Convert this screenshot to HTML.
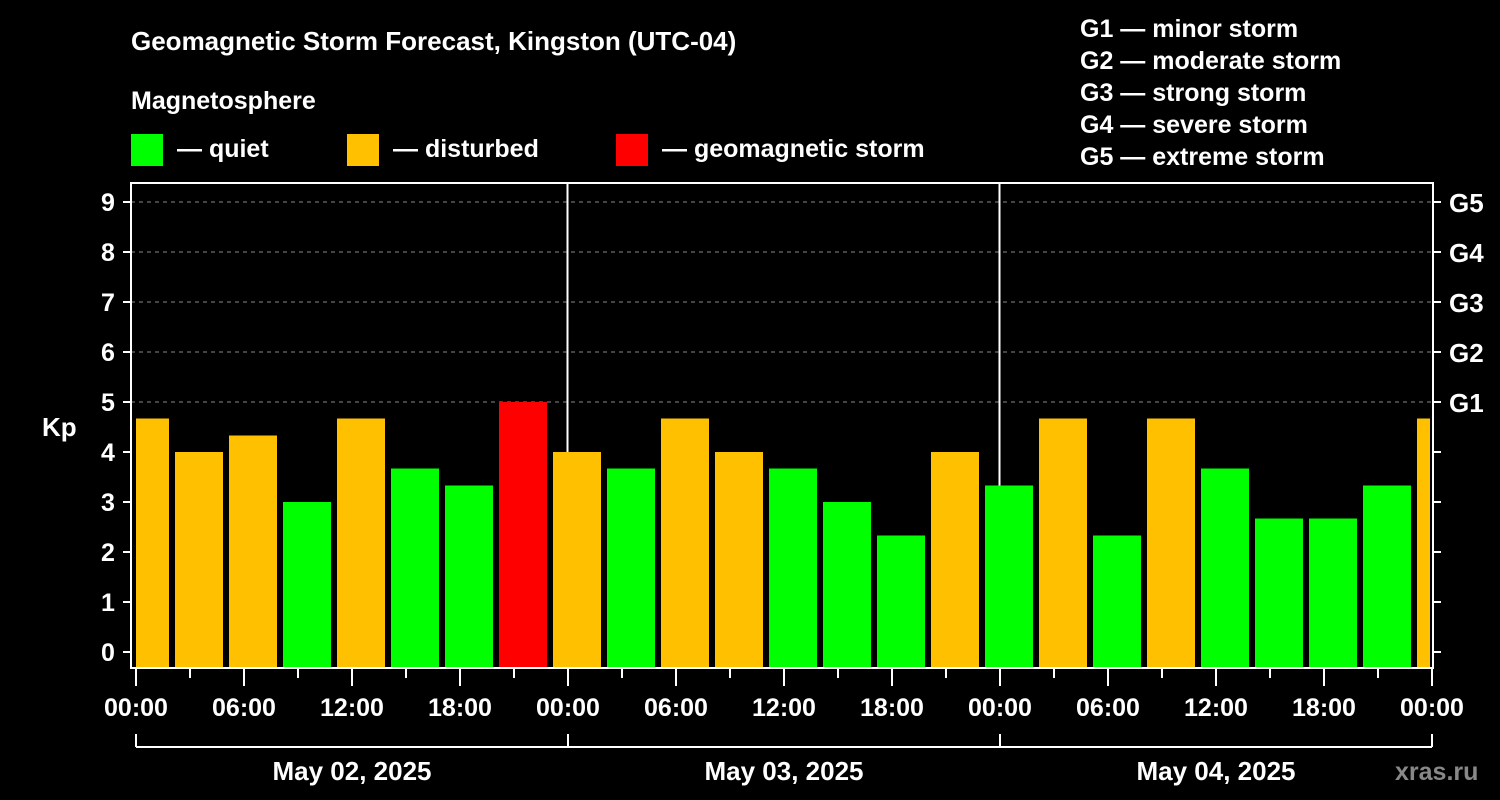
<!DOCTYPE html>
<html><head><meta charset="utf-8"><style>
body{margin:0;background:#000;}
svg{display:block;font-family:"Liberation Sans",Arial,sans-serif;font-weight:bold;fill:#fff;}
</style></head><body>
<svg id="c" width="1500" height="800" viewBox="0 0 1500 800">
<rect width="1500" height="800" fill="#000"/>
<text x="131" y="50" font-size="26">Geomagnetic Storm Forecast, Kingston (UTC-04)</text>
<text x="131" y="109" font-size="25">Magnetosphere</text>
<g><rect x="131" y="134" width="32" height="32" fill="#00ff00"/><text x="177" y="157" font-size="25">— quiet</text></g>
<g><rect x="347" y="134" width="32" height="32" fill="#ffc000"/><text x="393" y="157" font-size="25">— disturbed</text></g>
<g><rect x="616" y="134" width="32" height="32" fill="#ff0000"/><text x="662" y="157" font-size="25">— geomagnetic storm</text></g>
<g font-size="25">
<text x="1080" y="37">G1 — minor storm</text><text x="1080" y="69">G2 — moderate storm</text><text x="1080" y="101">G3 — strong storm</text><text x="1080" y="133">G4 — severe storm</text><text x="1080" y="165">G5 — extreme storm</text></g>
<text x="42" y="436" font-size="26">Kp</text>
<g id="plot"></g>
<text x="1395" y="780" font-size="25" fill="#888" style="fill:#888">xras.ru</text>
</svg>
<script>
const values=[4.67,4,4.33,3,4.67,3.67,3.33,5,4,3.67,4.67,4,3.67,3,2.33,4,3.33,4.67,2.33,4.67,3.67,2.67,2.67,3.33,4.67];
const dayLabels=["May 02, 2025","May 03, 2025","May 04, 2025"];
const hourLabels=["00:00","06:00","12:00","18:00"];
const gLabels=["G1","G2","G3","G4","G5"];
const NS="http://www.w3.org/2000/svg";
const g=document.getElementById('plot');
const X0=136,PXH=18,firstOffsetH=2;
const yS=v=>652-50*v;
const xS=h=>X0+h*PXH;
function mk(t,a,txt){const e=document.createElementNS(NS,t);for(const k in a)e.setAttribute(k,a[k]);if(txt!=null)e.textContent=txt;g.appendChild(e);return e;}
// grid
for(let v=5;v<=9;v++){const l=mk('line',{x1:131,x2:1433,y1:yS(v),y2:yS(v),stroke:'#888','stroke-dasharray':'4,4','stroke-width':1});

}
// day separators
for(let d=1;d<dayLabels.length;d++){const l=mk('line',{x1:xS(24*d)-0.5,x2:xS(24*d)-0.5,y1:182,y2:668,stroke:'#fff','stroke-width':2});

}
// bars
const endH=24*dayLabels.length;
values.forEach((v,i)=>{
  let s=i===0?0:firstOffsetH+3*(i-1), e=i===0?firstOffsetH:firstOffsetH+3*i;
  let x1=xS(s)+(i===0?0:3), x2=Math.min(xS(e)-3,xS(endH)-2);
  const col=v>=5?'#ff0000':(v>=4?'#ffc000':'#00ff00');
  const r=mk('rect',{x:x1,y:yS(v),width:x2-x1,height:668-yS(v),fill:col});
  
  
});
// frame
const f=mk('rect',{x:131,y:183,width:1302,height:485,fill:'none',stroke:'#fff','stroke-width':2});


// y ticks
for(let v=0;v<=9;v++){
  mk('line',{x1:123,x2:131,y1:yS(v),y2:yS(v),stroke:'#fff','stroke-width':2});
  const t=mk('text',{x:108,y:yS(v)+9,'font-size':25,'text-anchor':'middle'},String(v));
  
  
  mk('line',{x1:1433,x2:1441,y1:yS(v),y2:yS(v),stroke:'#fff','stroke-width':2});
}
gLabels.forEach((lb,i)=>{const t=mk('text',{x:1449,y:yS(5+i)+10,'font-size':26},lb);

});
// x ticks
for(let h=0;h<=endH;h+=3){
  const x=xS(h);const major=h%6===0;
  mk('line',{x1:x,x2:x,y1:669,y2:major?686:678,stroke:'#fff','stroke-width':2});
  if(major){const t=mk('text',{x:x,y:716,'font-size':25,'text-anchor':'middle'},hourLabels[(h%24)/6]);
  
  }
}
// day brackets
mk('line',{x1:xS(0),x2:xS(endH),y1:747,y2:747,stroke:'#fff','stroke-width':2});
for(let d=0;d<=dayLabels.length;d++)mk('line',{x1:xS(24*d),x2:xS(24*d),y1:734,y2:747,stroke:'#fff','stroke-width':2});
dayLabels.forEach((lb,d)=>{const t=mk('text',{x:xS(24*d+12),y:780,'font-size':26,'text-anchor':'middle'},lb);

});
</script>
</body></html>
